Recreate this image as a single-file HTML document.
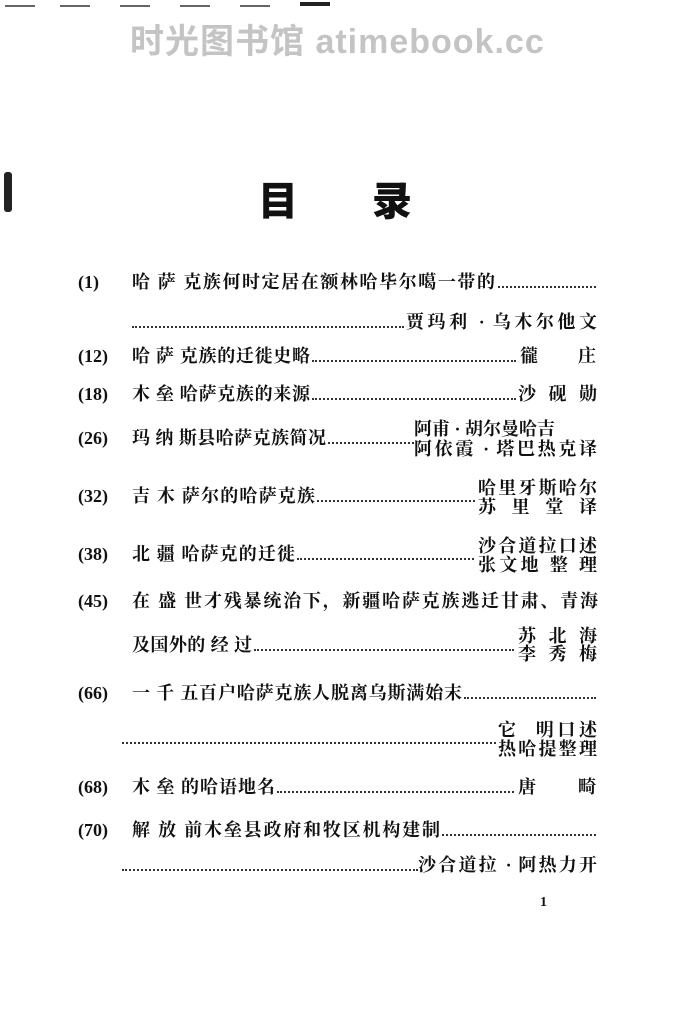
<!DOCTYPE html>
<html><head><meta charset="utf-8"><style>
body{margin:0;width:674px;height:1024px;background:#fff;position:relative;overflow:hidden;font-family:"Liberation Serif","Noto Serif CJK SC","Noto Sans CJK SC",serif;color:#111}
.t{position:absolute;font-size:18px;line-height:19px;white-space:nowrap;font-weight:bold}
.j{position:absolute;font-size:18px;line-height:19px;white-space:nowrap;font-weight:bold;text-align:justify;text-align-last:justify;text-justify:inter-character}
.d{position:absolute;height:0;border-top:2px dotted #333}
.wm{position:absolute;top:14px;left:130px;font-family:"Liberation Sans","Noto Sans CJK SC",sans-serif;font-size:34px;font-weight:bold;color:#c4c4c4;white-space:nowrap;letter-spacing:1px}
.bar{position:absolute;top:5px;height:2px;background:#666}
</style></head><body>
<div class="bar" style="left:5px;width:30px"></div>
<div class="bar" style="left:60px;width:30px"></div>
<div class="bar" style="left:120px;width:30px"></div>
<div class="bar" style="left:180px;width:30px"></div>
<div class="bar" style="left:240px;width:30px"></div>
<div class="bar" style="left:300px;width:30px;height:4px;top:2px;background:#222"></div>
<div class="wm">时光图书馆 atimebook.cc</div>
<div style="position:absolute;left:4px;top:172px;width:8px;height:40px;background:#222;border-radius:3px"></div>
<div class="t" style="left:258px;top:176px;font-size:40px;line-height:44px;font-family:'Noto Sans CJK SC',sans-serif;font-weight:900">目</div>
<div class="t" style="left:372px;top:176px;font-size:40px;line-height:44px;font-family:'Noto Sans CJK SC',sans-serif;font-weight:900">录</div>

<div class="t" style="left:78px;top:273px">(1)</div>
<div class="j" style="left:132px;top:273px;width:363px">哈 萨 克族何时定居在额林哈毕尔噶一带的</div>
<div class="d" style="left:498px;width:98px;top:286px"></div>
<div class="d" style="left:132px;width:272px;top:326px"></div>
<div class="j" style="left:406px;top:313px;width:191px">贾玛利 · 乌木尔他文</div>

<div class="t" style="left:78px;top:347px">(12)</div>
<div class="j" style="left:132px;top:347px;width:178px">哈 萨 克族的迁徙史略</div>
<div class="d" style="left:312px;width:204px;top:360px"></div>
<div class="t" style="left:520px;top:347px">徿</div>
<div class="t" style="left:578px;top:347px">庄</div>

<div class="t" style="left:78px;top:385px">(18)</div>
<div class="j" style="left:132px;top:385px;width:178px">木 垒 哈萨克族的来源</div>
<div class="d" style="left:312px;width:204px;top:398px"></div>
<div class="j" style="left:518px;top:385px;width:79px">沙砚勋</div>

<div class="t" style="left:78px;top:429px">(26)</div>
<div class="j" style="left:132px;top:429px;width:194px">玛 纳 斯县哈萨克族简况</div>
<div class="d" style="left:328px;width:86px;top:442px"></div>
<div class="j" style="left:414px;top:420px;width:141px">阿甫 · 胡尔曼哈吉</div>
<div class="j" style="left:414px;top:440px;width:183px">阿依霞 · 塔巴热克译</div>

<div class="t" style="left:78px;top:487px">(32)</div>
<div class="j" style="left:132px;top:487px;width:183px">吉 木 萨尔的哈萨克族</div>
<div class="d" style="left:317px;width:158px;top:500px"></div>
<div class="j" style="left:478px;top:479px;width:119px">哈里牙斯哈尔</div>
<div class="j" style="left:478px;top:498px;width:119px">苏里堂译</div>

<div class="t" style="left:78px;top:545px">(38)</div>
<div class="j" style="left:132px;top:545px;width:163px">北 疆 哈萨克的迁徙</div>
<div class="d" style="left:297px;width:177px;top:558px"></div>
<div class="j" style="left:478px;top:537px;width:119px">沙合道拉口述</div>
<div class="j" style="left:478px;top:556px;width:119px">张文地 整 理</div>

<div class="t" style="left:78px;top:592px">(45)</div>
<div class="j" style="left:132px;top:592px;width:466px">在 盛 世才残暴统治下，新疆哈萨克族逃迁甘肃、青海</div>
<div class="j" style="left:132px;top:636px;width:120px">及国外的 经 过</div>
<div class="d" style="left:254px;width:260px;top:649px"></div>
<div class="j" style="left:518px;top:627px;width:79px">苏北海</div>
<div class="j" style="left:518px;top:645px;width:79px">李秀梅</div>

<div class="t" style="left:78px;top:684px">(66)</div>
<div class="j" style="left:132px;top:684px;width:330px">一 千 五百户哈萨克族人脱离乌斯满始末</div>
<div class="d" style="left:464px;width:132px;top:697px"></div>
<div class="d" style="left:122px;width:374px;top:742px"></div>
<div class="j" style="left:498px;top:721px;width:99px">它 &nbsp;明口述</div>
<div class="j" style="left:498px;top:740px;width:99px">热哈提整理</div>

<div class="t" style="left:78px;top:778px">(68)</div>
<div class="j" style="left:132px;top:778px;width:143px">木 垒 的哈语地名</div>
<div class="d" style="left:277px;width:237px;top:791px"></div>
<div class="t" style="left:518px;top:778px">唐</div>
<div class="t" style="left:578px;top:778px">畸</div>

<div class="t" style="left:78px;top:821px">(70)</div>
<div class="j" style="left:132px;top:821px;width:308px">解 放 前木垒县政府和牧区机构建制</div>
<div class="d" style="left:442px;width:154px;top:834px"></div>
<div class="d" style="left:122px;width:296px;top:869px"></div>
<div class="j" style="left:418px;top:856px;width:179px">沙合道拉 · 阿热力开</div>

<div class="t" style="left:540px;top:893px;font-size:14px">1</div>
</body></html>
